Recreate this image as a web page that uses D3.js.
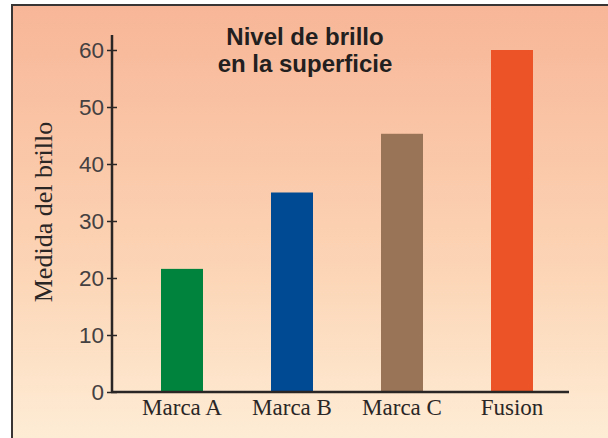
<!DOCTYPE html>
<html>
<head>
<meta charset="utf-8">
<script src="https://cdn.jsdelivr.net/npm/d3@7"></script>
<style>
body { margin: 0; background: #fff; }
</style>
</head>
<body>
<script>
var width = 608,
	height = 438;

var categories = ["Marca A", "Marca B", "Marca C", "Fusion"],
	values = [21.6, 35, 45.3, 60],
	colors = ["#00843d", "#004a93", "#9a7456", "#ec5428"],
	yTicks = [0, 10, 20, 30, 40, 50, 60],
	titleLines = ["Nivel de brillo", "en la superficie"];

var svg = d3.select("body")
		.append("svg")
		.attr("width", width)
		.attr("height", height);

var grad = svg.append("defs").append("linearGradient")
	.attr("id", "bg")
	.attr("x1", 0).attr("y1", 0)
	.attr("x2", 0).attr("y2", 1);
grad.append("stop").attr("offset", "0%").attr("stop-color", "#f7b697");
grad.append("stop").attr("offset", "60%").attr("stop-color", "#fcd6b7");
grad.append("stop").attr("offset", "100%").attr("stop-color", "#fef0da");

// panel with border on left and top only (the rest runs off the picture)
svg.append("rect")
	.attr("x", 12).attr("y", 5)
	.attr("width", width + 20).attr("height", height + 20)
	.attr("fill", "url(#bg)")
	.attr("stroke", "#3a3535")
	.attr("stroke-width", 2);

var y = d3.scaleLinear()
	.domain([0, 60])
	.range([392, 50]);

var x = d3.scalePoint()
	.domain(categories)
	.range([182, 512]);

var barW = 42;

// bars
svg.selectAll(".bar")
	.data(values)
	.enter()
	.append("rect")
	.attr("x", function(d, i) { return x(categories[i]) - barW / 2; })
	.attr("y", function(d) { return y(d); })
	.attr("width", barW)
	.attr("height", function(d) { return y(0) - y(d); })
	.attr("fill", function(d, i) { return colors[i]; });

// y axis
var yAxis = d3.axisLeft(y)
	.tickValues(yTicks)
	.tickSize(0)
	.tickPadding(8);

var gy = svg.append("g")
	.attr("transform", "translate(112,0)")
	.call(yAxis);
gy.select(".domain").remove();
gy.selectAll("text")
	.attr("font-family", "'Liberation Sans', Arial, sans-serif")
	.attr("font-size", 22.5)
	.attr("fill", "#444041");

gy.selectAll(".tick").append("line")
	.attr("x1", -5).attr("x2", 5)
	.attr("stroke", "#2a2626")
	.attr("stroke-width", 1.5);

svg.append("line")
	.attr("x1", 112).attr("x2", 112)
	.attr("y1", 35).attr("y2", 393)
	.attr("stroke", "#2a2626")
	.attr("stroke-width", 2.5);

// x axis
svg.append("line")
	.attr("x1", 111).attr("x2", 569)
	.attr("y1", y(0)).attr("y2", y(0))
	.attr("stroke", "#2a2626")
	.attr("stroke-width", 2.5);

svg.selectAll(".xlab")
	.data(categories)
	.enter()
	.append("text")
	.attr("x", function(d) { return x(d); })
	.attr("y", 415)
	.attr("text-anchor", "middle")
	.attr("font-family", "'Liberation Serif', 'Times New Roman', serif")
	.attr("font-size", 23)
	.attr("fill", "#2a2626")
	.text(function(d) { return d; });

// y label
svg.append("text")
	.attr("transform", "translate(52,212) rotate(-90)")
	.attr("text-anchor", "middle")
	.attr("font-family", "'Liberation Serif', 'Times New Roman', serif")
	.attr("font-size", 26)
	.attr("fill", "#2a2626")
	.text("Medida del brillo");

// title
svg.selectAll(".title")
	.data(titleLines)
	.enter()
	.append("text")
	.attr("x", 305)
	.attr("y", function(d, i) { return 45 + i * 27; })
	.attr("text-anchor", "middle")
	.attr("font-family", "'Liberation Sans', Arial, sans-serif")
	.attr("font-weight", "bold")
	.attr("font-size", 24)
	.attr("fill", "#231f20")
	.text(function(d) { return d; });
</script>
</body>
</html>
